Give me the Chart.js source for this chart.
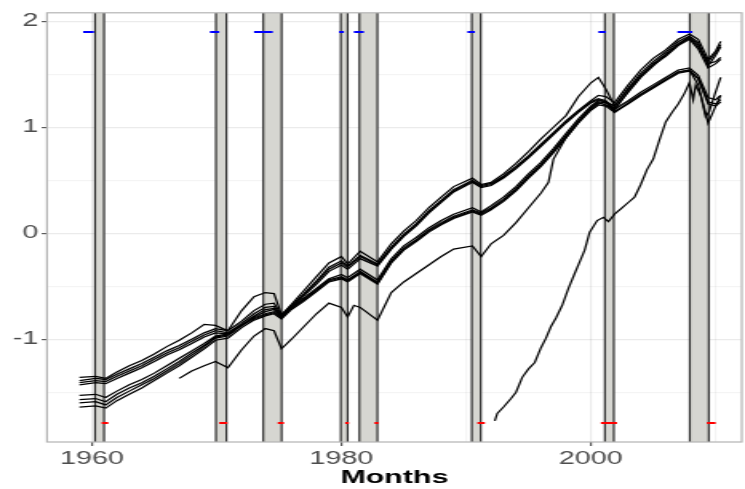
<!DOCTYPE html>
<html>
<head>
<meta charset="utf-8">
<script src="https://cdn.jsdelivr.net/npm/chart.js@4"></script>
<style>
  html, body { margin: 0; padding: 0; background: #fff; overflow: hidden; }
  /* the reference is a horizontally stretched plot, so draw narrow and stretch */
  #wrap { width: 466px; height: 489px; transform: scaleX(1.5987); transform-origin: 0 0; }
</style>
</head>
<body>
<div id="wrap"><canvas id="chart" width="466" height="489"></canvas></div>
<script>
// time grid (decimal years) shared by the bundled series
const timeGrid = [1959.0, 1960.3, 1961.1, 1962, 1963, 1964, 1965, 1966, 1967, 1968,
  1969, 1969.9, 1970.9, 1972, 1973, 1973.9, 1974.6, 1975.2, 1976, 1977,
  1978, 1979, 1980.0, 1980.5, 1981.5, 1982.9, 1984, 1985, 1986, 1987,
  1988, 1989, 1990.5, 1991.2, 1992, 1993, 1994, 1995, 1996, 1997,
  1998, 1999, 2000, 2000.6, 2001.2, 2001.9, 2003, 2004, 2005, 2006,
  2007, 2007.9, 2008.6, 2009.4, 2010.0, 2010.4];

const s1 = [-1.36, -1.35, -1.37, -1.31, -1.25, -1.20, -1.14, -1.07, -1.01, -0.94,
  -0.86, -0.87, -0.92, -0.73, -0.60, -0.56, -0.57, -0.77, -0.67, -0.54,
  -0.41, -0.28, -0.22, -0.29, -0.17, -0.27, -0.10, 0.02, 0.12, 0.24,
  0.34, 0.44, 0.52, 0.46, 0.48, 0.56, 0.66, 0.77, 0.89, 1.00,
  1.11, 1.29, 1.42, 1.47, 1.36, 1.20, 1.37, 1.51, 1.62, 1.71,
  1.81, 1.86, 1.80, 1.58, 1.68, 1.76];
const s2 = [-1.39, -1.37, -1.38, -1.33, -1.28, -1.23, -1.17, -1.11, -1.06, -1.00,
  -0.94, -0.90, -0.92, -0.83, -0.73, -0.67, -0.66, -0.77, -0.68, -0.57,
  -0.45, -0.32, -0.26, -0.31, -0.21, -0.29, -0.13, -0.01, 0.09, 0.21,
  0.31, 0.41, 0.50, 0.45, 0.47, 0.54, 0.63, 0.73, 0.84, 0.95,
  1.06, 1.16, 1.25, 1.30, 1.29, 1.23, 1.40, 1.54, 1.65, 1.73,
  1.83, 1.88, 1.83, 1.64, 1.72, 1.81];
const s3 = [-1.41, -1.39, -1.40, -1.35, -1.30, -1.25, -1.19, -1.13, -1.08, -1.02,
  -0.96, -0.92, -0.94, -0.85, -0.76, -0.70, -0.69, -0.78, -0.69, -0.58,
  -0.46, -0.34, -0.28, -0.32, -0.22, -0.30, -0.14, -0.02, 0.08, 0.20,
  0.30, 0.40, 0.49, 0.44, 0.46, 0.53, 0.62, 0.72, 0.83, 0.94,
  1.05, 1.15, 1.24, 1.27, 1.25, 1.17, 1.25, 1.33, 1.40, 1.47,
  1.54, 1.56, 1.49, 1.28, 1.26, 1.30];
const s4 = [-1.43, -1.41, -1.42, -1.37, -1.32, -1.27, -1.21, -1.15, -1.10, -1.04,
  -0.98, -0.94, -0.95, -0.87, -0.78, -0.72, -0.71, -0.79, -0.70, -0.59,
  -0.48, -0.36, -0.30, -0.34, -0.24, -0.31, -0.15, -0.03, 0.07, 0.19,
  0.29, 0.39, 0.48, 0.43, 0.45, 0.52, 0.61, 0.71, 0.82, 0.93,
  1.04, 1.14, 1.23, 1.26, 1.24, 1.15, 1.23, 1.31, 1.38, 1.45,
  1.52, 1.54, 1.40, 1.04, 1.20, 1.30];
const s5 = [-1.53, -1.52, -1.55, -1.49, -1.43, -1.38, -1.32, -1.25, -1.18, -1.11,
  -1.04, -0.97, -0.95, -0.87, -0.79, -0.74, -0.72, -0.78, -0.70, -0.61,
  -0.52, -0.43, -0.39, -0.42, -0.34, -0.44, -0.24, -0.12, -0.04, 0.05,
  0.12, 0.18, 0.24, 0.20, 0.26, 0.34, 0.44, 0.56, 0.67, 0.80,
  0.94, 1.08, 1.20, 1.25, 1.24, 1.20, 1.36, 1.49, 1.60, 1.69,
  1.79, 1.85, 1.78, 1.60, 1.62, 1.66];
const s6 = [-1.57, -1.56, -1.59, -1.52, -1.46, -1.41, -1.35, -1.28, -1.21, -1.13,
  -1.06, -0.98, -0.96, -0.86, -0.80, -0.76, -0.74, -0.79, -0.71, -0.62,
  -0.53, -0.44, -0.41, -0.44, -0.36, -0.46, -0.26, -0.14, -0.06, 0.03,
  0.10, 0.16, 0.22, 0.19, 0.24, 0.32, 0.42, 0.54, 0.65, 0.78,
  0.92, 1.06, 1.19, 1.24, 1.23, 1.18, 1.33, 1.47, 1.58, 1.68,
  1.78, 1.84, 1.76, 1.62, 1.70, 1.78];
const s7 = [-1.60, -1.59, -1.62, -1.55, -1.49, -1.43, -1.37, -1.30, -1.23, -1.15,
  -1.07, -0.99, -0.97, -0.87, -0.81, -0.77, -0.75, -0.80, -0.71, -0.63,
  -0.54, -0.45, -0.42, -0.45, -0.37, -0.47, -0.27, -0.15, -0.07, 0.02,
  0.09, 0.15, 0.21, 0.18, 0.23, 0.31, 0.41, 0.53, 0.64, 0.77,
  0.91, 1.05, 1.18, 1.23, 1.21, 1.16, 1.34, 1.48, 1.59, 1.67,
  1.77, 1.83, 1.74, 1.56, 1.60, 1.64];
const s8 = [-1.64, -1.63, -1.65, -1.58, -1.52, -1.46, -1.39, -1.32, -1.25, -1.17,
  -1.09, -1.01, -0.99, -0.89, -0.82, -0.78, -0.76, -0.81, -0.72, -0.64,
  -0.55, -0.46, -0.43, -0.46, -0.38, -0.48, -0.28, -0.16, -0.08, 0.01,
  0.08, 0.14, 0.20, 0.17, 0.22, 0.30, 0.40, 0.52, 0.63, 0.76,
  0.90, 1.04, 1.16, 1.21, 1.20, 1.14, 1.22, 1.30, 1.37, 1.44,
  1.51, 1.53, 1.46, 1.24, 1.22, 1.26];

// series starting in 1967
const s9Time = [1967, 1968, 1969, 1969.9, 1970.9, 1972, 1973, 1973.9, 1974.6, 1975.2,
  1976, 1977, 1978, 1979, 1980.0, 1980.5, 1981.0, 1981.5, 1982.9,
  1984, 1985, 1986, 1987, 1988, 1989,
  1990.5, 1991.2, 1992, 1993, 1994, 1995, 1996, 1996.6, 1997,
  1998, 1999, 2000, 2000.6, 2001.2, 2001.9,
  2003, 2004, 2005, 2006, 2007, 2007.9, 2008.6, 2009.4, 2010.0, 2010.4];
const s9 = [-1.37, -1.30, -1.25, -1.21, -1.27, -1.10, -0.97, -0.90, -0.92, -1.09,
  -1.00, -0.88, -0.76, -0.66, -0.70, -0.79, -0.68, -0.70, -0.82,
  -0.56, -0.46, -0.38, -0.30, -0.22, -0.15,
  -0.12, -0.22, -0.10, -0.02, 0.10, 0.24, 0.38, 0.48, 0.70,
  0.90, 1.05, 1.17, 1.22, 1.24, 1.14,
  1.23, 1.31, 1.38, 1.45, 1.52, 1.54, 1.46, 1.22, 1.20, 1.24];

// series starting in 1992
const s10Time = [1992.3, 1992.5, 1993.0, 1993.6, 1994.0, 1994.5, 1995.0, 1995.5, 1996.0, 1996.4,
  1996.8, 1997.2, 1997.7, 1998.2, 1998.7, 1999.1, 1999.5, 1999.9, 2000.5, 2001.0,
  2001.4, 2001.9, 2002.5, 2003.0, 2003.5, 2004.0, 2004.5, 2005.0, 2005.5, 2006.0,
  2006.5, 2007.0, 2007.5, 2007.9, 2008.2, 2008.4, 2008.8, 2009.2, 2009.5, 2009.9, 2010.4];
const s10 = [-1.77, -1.70, -1.64, -1.56, -1.50, -1.36, -1.28, -1.22, -1.08, -0.99,
  -0.88, -0.80, -0.68, -0.52, -0.38, -0.27, -0.16, 0.01, 0.12, 0.15,
  0.11, 0.18, 0.24, 0.29, 0.34, 0.46, 0.60, 0.70, 0.88, 1.05,
  1.14, 1.22, 1.32, 1.42, 1.26, 1.40, 1.30, 1.10, 1.15, 1.30, 1.47];

// recession bands
const recessionStart = [1960.25, 1969.94, 1973.74, 1979.95, 1981.44, 1990.45, 2001.12, 2007.93];
const recessionEnd   = [1960.97, 1970.78, 1975.21, 1980.50, 1982.89, 1991.17, 2001.84, 2009.45];

// signal markers (blue at top, red at bottom)
const peakStart   = [1959.3, 1969.46, 1973.0, 1979.8, 1981.0, 1990.1, 2000.6, 2006.94];
const peakEnd     = [1960.16, 1970.2, 1974.5, 1980.2, 1981.8, 1990.7, 2001.2, 2008.14];
const peakLevel   = 1.90;
const troughStart = [1960.78, 1970.2, 1974.9, 1980.3, 1982.66, 1990.9, 2000.8, 2009.3];
const troughEnd   = [1961.31, 1970.86, 1975.4, 1980.6, 1982.98, 1991.5, 2002.1, 2010.0];
const troughLevel = -1.79;

// ticks
const yMajorTicks = [-1, 0, 1, 2];
const yMinorTicks = [-1.5, -0.5, 0.5, 1.5];
const xMajorTicks = [1960, 1980, 2000];
const xMinorTicks = [1970, 1990, 2010];

const pairs = (t, v) => t.map((x, i) => ({ x: x, y: v[i] }));
function segments(starts, ends, level) {
  const pts = [];
  starts.forEach((s, i) => {
    pts.push({ x: s, y: level }, { x: ends[i], y: level }, { x: ends[i], y: null });
  });
  return pts;
}

const lineStyle = { borderColor: '#000', borderWidth: 1.25, pointRadius: 0, tension: 0, fill: false };
const datasets = [s1, s2, s3, s4, s5, s6, s7, s8].map(s => ({ ...lineStyle, data: pairs(timeGrid, s) }));
datasets.push({ ...lineStyle, data: pairs(s9Time, s9) });
datasets.push({ ...lineStyle, data: pairs(s10Time, s10) });
datasets.push({ data: segments(peakStart, peakEnd, peakLevel), borderColor: '#0000ff', borderWidth: 2, pointRadius: 0 });
datasets.push({ data: segments(troughStart, troughEnd, troughLevel), borderColor: '#ff0000', borderWidth: 2, pointRadius: 0 });

const recessionShading = {
  id: 'recessionShading',
  beforeDatasetsDraw(chart) {
    const { ctx, chartArea: a, scales: { x } } = chart;
    ctx.save();
    ctx.beginPath();
    ctx.rect(a.left, a.top, a.width, a.height);
    ctx.clip();
    recessionStart.forEach((s, i) => {
      const x0 = x.getPixelForValue(s);
      const x1 = x.getPixelForValue(recessionEnd[i]);
      ctx.fillStyle = 'rgb(214,214,209)';
      ctx.fillRect(x0, a.top, x1 - x0, a.height);
      ctx.strokeStyle = '#2b2b2b';
      ctx.lineWidth = 1.2;
      ctx.beginPath();
      ctx.moveTo(x0, a.top); ctx.lineTo(x0, a.bottom);
      ctx.moveTo(x1, a.top); ctx.lineTo(x1, a.bottom);
      ctx.stroke();
    });
    ctx.restore();
  },
  afterDraw(chart) {
    const { ctx, chartArea: a } = chart;
    ctx.save();
    ctx.strokeStyle = '#b3b3b3';
    ctx.lineWidth = 1.2;
    ctx.strokeRect(a.left, a.top, a.width, a.height);
    ctx.restore();
  }
};

new Chart(document.getElementById('chart'), {
  type: 'line',
  data: { datasets },
  plugins: [recessionShading],
  options: {
    responsive: false,
    animation: false,
    devicePixelRatio: 1,
    layout: { padding: { top: 7, right: 2, left: 0, bottom: 0 } },
    plugins: { legend: { display: false }, tooltip: { enabled: false } },
    scales: {
      x: {
        type: 'linear',
        min: 1956.4,
        max: 2012.1,
        afterBuildTicks: axis => { axis.ticks = [...xMajorTicks, ...xMinorTicks].sort((a, b) => a - b).map(v => ({ value: v })); },
        afterFit: axis => { axis.height = 47; },
        border: { display: false },
        grid: {
          color: c => xMajorTicks.includes(c.tick.value) ? 'rgba(0,0,0,0.08)' : 'rgba(0,0,0,0.045)',
          lineWidth: 1.2,
          tickColor: c => xMajorTicks.includes(c.tick.value) ? '#555' : 'rgba(0,0,0,0)',
          tickLength: 4
        },
        ticks: {
          autoSkip: false,
          maxRotation: 0,
          padding: 2,
          color: '#4d4d4d',
          font: { family: 'Liberation Sans, Arial, sans-serif', size: 18 },
          callback: v => xMajorTicks.includes(v) ? String(v) : ''
        },
        title: {
          display: true,
          text: 'Months',
          color: '#000',
          padding: { top: 0, bottom: 0 },
          font: { family: 'Liberation Sans, Arial, sans-serif', size: 19, weight: 'bold' }
        }
      },
      y: {
        min: -1.97,
        max: 2.08,
        afterBuildTicks: axis => { axis.ticks = [...yMajorTicks, ...yMinorTicks].sort((a, b) => a - b).map(v => ({ value: v })); },
        afterFit: axis => { axis.width = 29.4; },
        border: { display: false },
        grid: {
          color: c => yMajorTicks.includes(c.tick.value) ? 'rgba(0,0,0,0.08)' : 'rgba(0,0,0,0.045)',
          lineWidth: 1.2,
          tickColor: c => yMajorTicks.includes(c.tick.value) ? '#555' : 'rgba(0,0,0,0)',
          tickLength: 3.3
        },
        ticks: {
          autoSkip: false,
          padding: 2,
          color: '#4d4d4d',
          font: { family: 'Liberation Sans, Arial, sans-serif', size: 18 },
          callback: v => yMajorTicks.includes(v) ? String(v) : ''
        }
      }
    }
  }
});
</script>
</body>
</html>
